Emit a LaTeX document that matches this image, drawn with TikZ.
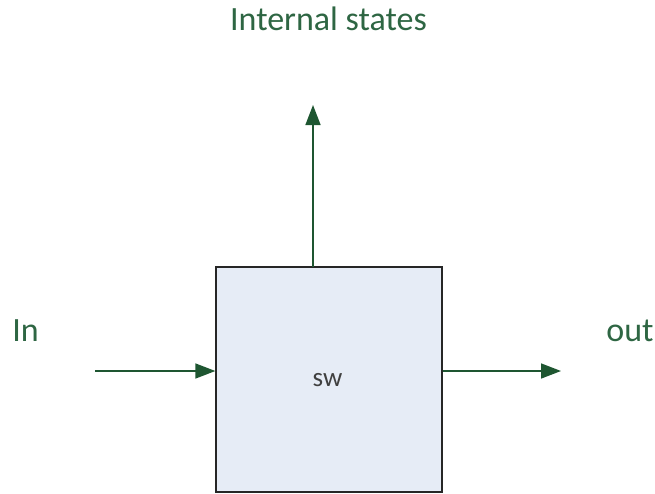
\documentclass[tikz,border=0pt]{standalone}
\usepackage{fontspec}
\setmainfont{Carlito}
\usetikzlibrary{arrows.meta}
\definecolor{arrgreen}{HTML}{1E5631}
\definecolor{txtgreen}{HTML}{2E6643}
\definecolor{boxfill}{HTML}{E6ECF6}
\begin{document}
\begin{tikzpicture}[x=1pt,y=-1pt,
  conn/.style={draw=arrgreen,line width=1.5pt,-{Triangle[length=20pt,width=15pt]}},
  lbl/.style={text=txtgreen,font=\fontsize{34}{40}\selectfont,inner sep=0pt,anchor=base},
  swbox/.style={draw=black!85,line width=1.3pt,fill=boxfill,minimum width=226pt,minimum height=225pt,inner sep=0pt}]
\useasboundingbox (0,0) rectangle (655,493);
\node[swbox] (sw) at (329,379.5) {};
\node[text=black!75,font=\fontsize{27}{32}\selectfont,anchor=base,inner sep=0pt] (swl) at (327.5,386) {sw};
\coordinate (top) at (313,267);
\coordinate (up) at (313,105);
\coordinate (inS) at (95,371);
\coordinate (outE) at (561,371);
\draw[conn] (top) -- (up);
\draw[conn] (inS) -- (sw.west |- inS);
\draw[conn] (sw.east |- outE) -- (outE);
\node[lbl] (states) at (328.5,30) {Internal states};
\node[lbl] (in) at (25.5,341) {In};
\node[lbl] (out) at (630,341) {out};
\end{tikzpicture}
\end{document}
